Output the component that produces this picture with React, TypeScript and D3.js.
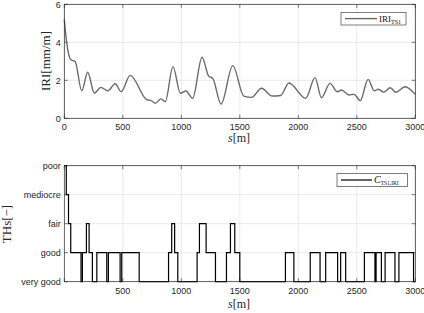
import React, { useEffect, useRef } from "react";
import * as d3 from "d3";

// IRI profile (distance in m, value in mm/m)
const iriS = [0, 20, 58, 92, 149, 200, 257, 312, 372, 435, 486, 563, 700, 749, 777, 826, 863, 929, 992, 1040, 1097, 1177, 1234, 1269, 1340, 1440, 1534, 1600, 1686, 1777, 1849, 1920, 2063, 2143, 2198, 2271, 2335, 2369, 2434, 2477, 2529, 2597, 2649, 2683, 2729, 2786, 2834, 2912, 3000];
const iriV = [5.2, 4.0, 3.07, 3.0, 1.45, 2.42, 1.32, 1.63, 1.45, 1.82, 1.4, 2.26, 1.0, 0.91, 0.79, 1.02, 0.87, 2.72, 1.32, 1.44, 1.05, 3.21, 2.22, 2.1, 0.75, 2.77, 1.17, 1.1, 1.58, 1.17, 1.2, 1.86, 1.05, 2.14, 1.08, 1.84, 1.4, 1.49, 1.23, 1.26, 0.93, 2.05, 1.45, 1.53, 1.38, 1.61, 1.37, 1.66, 1.26];

// threshold class steps (start of each segment, level index)
const thsS = [0, 17, 36, 55, 143, 155, 189, 212, 240, 278, 363, 377, 477, 491, 640, 891, 918, 943, 970, 1135, 1155, 1212, 1292, 1386, 1420, 1457, 1500, 1890, 1962, 2102, 2186, 2234, 2336, 2362, 2405, 2565, 2655, 2665, 2710, 2742, 2826, 2860, 2985, 3000];
const thsV = [4, 3, 2, 1, 0, 1, 2, 1, 0, 1, 0, 1, 0, 1, 0, 1, 2, 1, 0, 1, 2, 1, 0, 1, 2, 1, 0, 1, 0, 1, 0, 1, 0, 1, 0, 1, 0, 1, 0, 1, 0, 1, 0, 0];
const thsLabels = ["very good", "good", "fair", "mediocre", "poor"];

const xTicksTop = [0, 500, 1000, 1500, 2000, 2500, 3000];
const xTicksBottom = [500, 1000, 1500, 2000, 2500, 3000];
const yTicksTop = [0, 2, 4, 6];

const W = 424;
const H = 313;
const AX = "#262626";
const GRID = "#e3e3e3";
const SANS = "'Liberation Sans', Arial, sans-serif";
const SERIF = "'Liberation Serif', 'Times New Roman', serif";

export default function App() {
    const ref = useRef<SVGSVGElement>(null);

    useEffect(() => {
        const svg = d3.select(ref.current);
        svg.selectAll("*").remove();

        const x = d3.scaleLinear().domain([0, 3000]).range([64.3, 415.3]);
        const yTop = d3.scaleLinear().domain([0, 6]).range([118.3, 4.3]);
        const yBot = d3.scaleLinear().domain([0, 4]).range([281.7, 165.7]);

        const drawAxes = (y, yTicks, yFmt, xTicks, top, bottom) => {
            const g = svg.append("g");
            const [x0, x1] = x.range();
            // grid
            xTicks.forEach(t => {
                g.append("line").attr("x1", x(t)).attr("x2", x(t))
                    .attr("y1", top).attr("y2", bottom)
                    .attr("stroke", GRID).attr("stroke-width", 0.8);
            });
            yTicks.forEach(t => {
                g.append("line").attr("x1", x0).attr("x2", x1)
                    .attr("y1", y(t)).attr("y2", y(t))
                    .attr("stroke", GRID).attr("stroke-width", 0.8);
            });
            // ticks (inward, all sides)
            const tl = 3.5;
            xTicksTop.forEach(t => {
                g.append("line").attr("x1", x(t)).attr("x2", x(t)).attr("y1", bottom).attr("y2", bottom - tl).attr("stroke", AX).attr("stroke-width", 0.6);
                g.append("line").attr("x1", x(t)).attr("x2", x(t)).attr("y1", top).attr("y2", top + tl).attr("stroke", AX).attr("stroke-width", 0.6);
            });
            yTicks.forEach(t => {
                g.append("line").attr("x1", x0).attr("x2", x0 + tl).attr("y1", y(t)).attr("y2", y(t)).attr("stroke", AX).attr("stroke-width", 0.6);
                g.append("line").attr("x1", x1).attr("x2", x1 - tl).attr("y1", y(t)).attr("y2", y(t)).attr("stroke", AX).attr("stroke-width", 0.6);
            });
            // tick labels
            xTicks.forEach(t => {
                g.append("text").attr("x", x(t)).attr("y", bottom + 12)
                    .attr("text-anchor", "middle").attr("font-family", SANS)
                    .attr("font-size", "9px").attr("fill", AX).text(t);
            });
            yTicks.forEach(t => {
                g.append("text").attr("x", x0 - 3.5).attr("y", y(t) + 3.2)
                    .attr("text-anchor", "end").attr("font-family", SANS)
                    .attr("font-size", "9px").attr("fill", AX).text(yFmt(t));
            });
            return g;
        };

        const boxFrame = (top, bottom) => {
            const [x0, x1] = x.range();
            svg.append("rect").attr("x", x0).attr("y", top)
                .attr("width", x1 - x0).attr("height", bottom - top)
                .attr("fill", "none").attr("stroke", AX).attr("stroke-width", 0.7);
        };

        // ==========================
        // TOP: IRI
        // ==========================
        drawAxes(yTop, yTicksTop, d => d, xTicksTop, 4.3, 118.3);

        const iriData = iriS.map((s, i) => [s, iriV[i]]);
        const line = d3.line().x(d => x(d[0])).y(d => yTop(d[1])).curve(d3.curveMonotoneX);
        svg.append("path").datum(iriData).attr("d", line)
            .attr("fill", "none").attr("stroke", "#6a6a6a").attr("stroke-width", 1.4);

        boxFrame(4.3, 118.3);

        svg.append("text").attr("transform", "translate(50,61) rotate(-90)")
            .attr("text-anchor", "middle").attr("font-family", SERIF)
            .attr("font-size", "13px").attr("fill", AX).text("IRI[mm/m]");

        const xl1 = svg.append("text").attr("x", 239).attr("y", 142)
            .attr("text-anchor", "middle").attr("font-family", SERIF)
            .attr("font-size", "12px").attr("fill", AX);
        xl1.append("tspan").attr("font-style", "italic").text("s");
        xl1.append("tspan").text("[m]");

        // legend top
        const lg1 = svg.append("g");
        lg1.append("rect").attr("x", 341).attr("y", 12.3).attr("width", 65).attr("height", 12.7)
            .attr("fill", "#fff").attr("stroke", AX).attr("stroke-width", 0.6);
        lg1.append("line").attr("x1", 345).attr("x2", 377).attr("y1", 18.6).attr("y2", 18.6)
            .attr("stroke", "#6a6a6a").attr("stroke-width", 1.4);
        const lt1 = lg1.append("text").attr("x", 379).attr("y", 21.5)
            .attr("font-family", SERIF).attr("font-size", "9px").attr("fill", "#111");
        lt1.append("tspan").text("IRI");
        lt1.append("tspan").attr("font-size", "6px").attr("dy", 2).text("TS1");

        // ==========================
        // BOTTOM: THs step
        // ==========================
        drawAxes(yBot, [0, 1, 2, 3, 4], d => thsLabels[d], xTicksBottom, 165.7, 281.7);

        const thsData = thsS.map((s, i) => [s, thsV[i]]);
        const step = d3.line().x(d => x(d[0])).y(d => yBot(d[1])).curve(d3.curveStepAfter);
        svg.append("path").datum(thsData).attr("d", step)
            .attr("fill", "none").attr("stroke", "#000").attr("stroke-width", 1.2);

        boxFrame(165.7, 281.7);

        svg.append("text").attr("transform", "translate(11,224) rotate(-90)")
            .attr("text-anchor", "middle").attr("font-family", SERIF)
            .attr("font-size", "13px").attr("fill", AX).text("THs[\u2212]");

        const xl2 = svg.append("text").attr("x", 239).attr("y", 308)
            .attr("text-anchor", "middle").attr("font-family", SERIF)
            .attr("font-size", "12px").attr("fill", AX);
        xl2.append("tspan").attr("font-style", "italic").text("s");
        xl2.append("tspan").text("[m]");

        // legend bottom
        const lg2 = svg.append("g");
        lg2.append("rect").attr("x", 337).attr("y", 173.3).attr("width", 70.5).attr("height", 13.4)
            .attr("fill", "#fff").attr("stroke", AX).attr("stroke-width", 0.6);
        lg2.append("line").attr("x1", 341).attr("x2", 372).attr("y1", 180).attr("y2", 180)
            .attr("stroke", "#000").attr("stroke-width", 1.2);
        const lt2 = lg2.append("text").attr("x", 374).attr("y", 183)
            .attr("font-family", SERIF).attr("font-size", "10px").attr("fill", "#111");
        lt2.append("tspan").attr("font-style", "italic").text("C");
        lt2.append("tspan").attr("font-size", "5.5px").attr("dy", 2).text("TS1,IRI");
    }, []);

    return (
        <svg ref={ref} width={W} height={H}
            style={{ position: "absolute", left: 0, top: 0, background: "#fff" }} />
    );
}
